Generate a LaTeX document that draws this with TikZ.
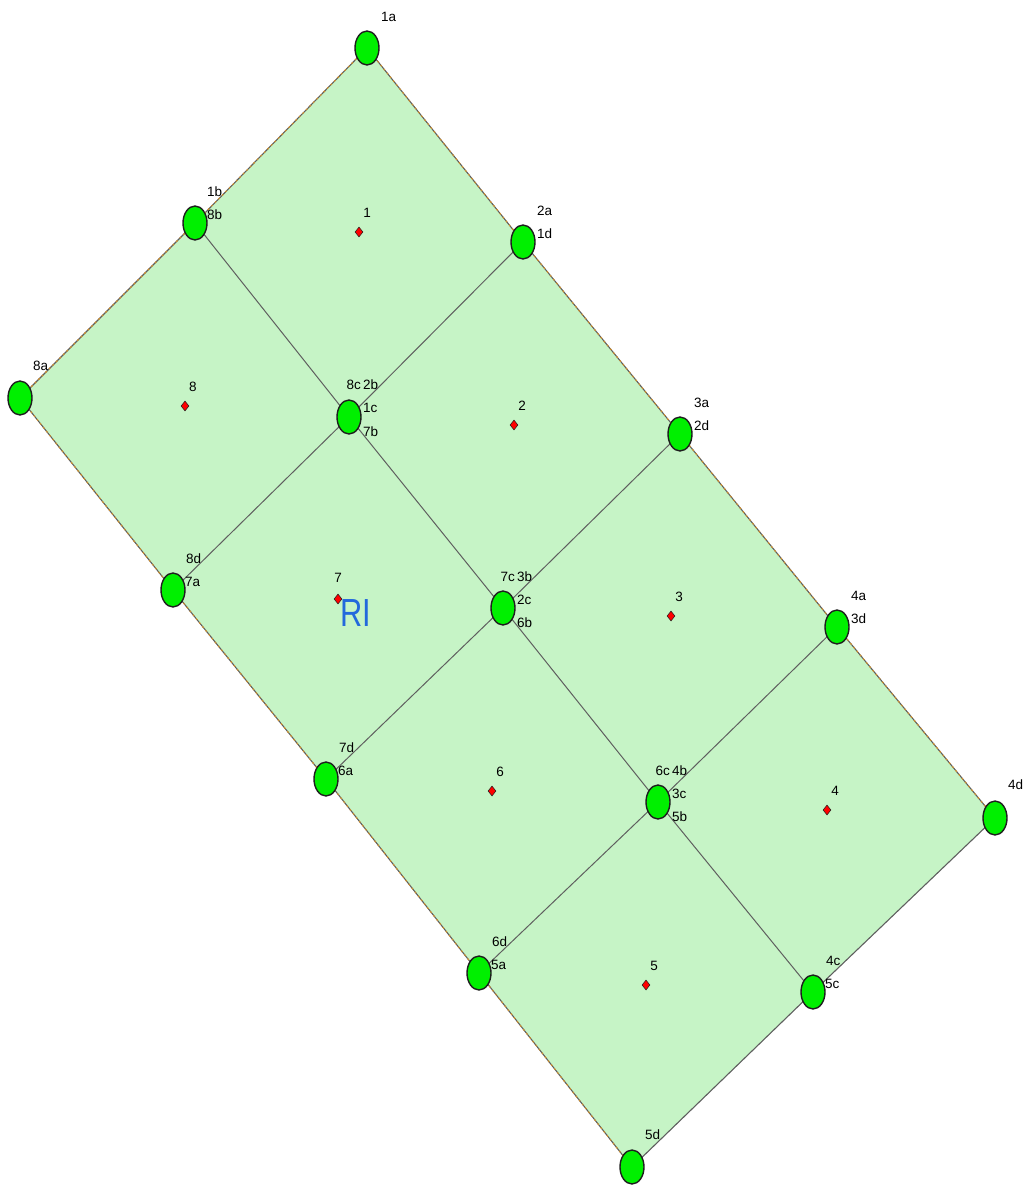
\documentclass[tikz,border=0pt]{standalone}
\usepackage{fontspec}
\setmainfont{Liberation Sans}
\usetikzlibrary{shapes.geometric,calc}
\definecolor{cellfill}{RGB}{198,244,198}
\definecolor{ptfill}{RGB}{0,240,0}
\definecolor{ptline}{RGB}{30,30,30}
\definecolor{gridline}{RGB}{95,95,95}
\definecolor{edgeorange}{RGB}{205,140,45}
\definecolor{riblue}{RGB}{35,105,220}
\tikzset{
  pt/.style={ellipse,draw=ptline,fill=ptfill,line width=1.4pt,minimum width=24pt,minimum height=34pt,inner sep=0pt},
  ctr/.style={diamond,draw=ptline,fill=red,line width=0.5pt,minimum width=8pt,minimum height=10pt,inner sep=0pt},
  lbl/.style={font=\fontsize{13.5}{14}\selectfont,inner sep=0pt,text=black},
  inner/.style={draw=gridline,line width=1pt},
  outer/.style={draw=gridline,line width=1.1pt},
  outerdots/.style={draw=edgeorange,line width=1.1pt,dash pattern=on 2pt off 3pt},
}
\begin{document}
\begin{tikzpicture}[x=1pt,y=-1pt]
\useasboundingbox (0,0) rectangle (1032,1191);
% grid points
\coordinate (p00) at (367,48);
\coordinate (p10) at (195,223);
\coordinate (p20) at (20,398);
\coordinate (p01) at (523,242);
\coordinate (p11) at (349,417);
\coordinate (p21) at (173,590);
\coordinate (p02) at (680,434);
\coordinate (p12) at (503,608);
\coordinate (p22) at (326,779);
\coordinate (p03) at (837,627);
\coordinate (p13) at (658,802);
\coordinate (p23) at (479,973);
\coordinate (p04) at (995,818);
\coordinate (p14) at (813,992);
\coordinate (p24) at (632,1167);
% fill
\fill[cellfill] (p00)--(p10)--(p20)--(p21)--(p22)--(p23)--(p24)--(p14)--(p04)--(p03)--(p02)--(p01)--cycle;
% inner edges
\draw[inner] (p10)--(p11)--(p12)--(p13)--(p14);
\draw[inner] (p01)--(p11)--(p21);
\draw[inner] (p02)--(p12)--(p22);
\draw[inner] (p03)--(p13)--(p23);
% outer edges
\draw[outer] (p00)--(p10)--(p20)--(p21)--(p22)--(p23)--(p24)--(p14)--(p04)--(p03)--(p02)--(p01)--cycle;
\draw[outerdots] (p00)--(p10)--(p20)--(p21)--(p22)--(p23)--(p24);
\draw[outerdots] (p04)--(p03)--(p02)--(p01)--(p00);
% points
\foreach \p in {p00,p10,p20,p01,p11,p21,p02,p12,p22,p03,p13,p23,p04,p14,p24}
  \node[pt] (n\p) at (\p) {};
% point labels
\node[lbl,anchor=west] (l1a) at ($(p00)+(14,-31)$) {1a};
\node[lbl,anchor=west] (l1b) at ($(p10)+(12,-31)$) {1b};
\node[lbl,anchor=west] (l8b) at ($(p10)+(12,-8)$) {8b};
\node[lbl,anchor=west] (l8a) at ($(p20)+(13,-32)$) {8a};
\node[lbl,anchor=west] (l2a) at ($(p01)+(14,-31)$) {2a};
\node[lbl,anchor=west] (l1d) at ($(p01)+(14,-8)$) {1d};
\node[lbl,anchor=east] (l8c) at ($(p11)+(12,-32)$) {8c};
\node[lbl,anchor=west] (l2b) at ($(p11)+(14,-32)$) {2b};
\node[lbl,anchor=west] (l1c) at ($(p11)+(14,-9)$) {1c};
\node[lbl,anchor=west] (l7b) at ($(p11)+(14,15)$) {7b};
\node[lbl,anchor=west] (l8d) at ($(p21)+(13,-31)$) {8d};
\node[lbl,anchor=west] (l7a) at ($(p21)+(12,-8)$) {7a};
\node[lbl,anchor=west] (l3a) at ($(p02)+(14,-31)$) {3a};
\node[lbl,anchor=west] (l2d) at ($(p02)+(14,-8)$) {2d};
\node[lbl,anchor=east] (l7c) at ($(p12)+(12,-31)$) {7c};
\node[lbl,anchor=west] (l3b) at ($(p12)+(14,-31)$) {3b};
\node[lbl,anchor=west] (l2c) at ($(p12)+(14,-8)$) {2c};
\node[lbl,anchor=west] (l6b) at ($(p12)+(14,15)$) {6b};
\node[lbl,anchor=west] (l7d) at ($(p22)+(13,-31)$) {7d};
\node[lbl,anchor=west] (l6a) at ($(p22)+(12,-8)$) {6a};
\node[lbl,anchor=west] (l4a) at ($(p03)+(14,-31)$) {4a};
\node[lbl,anchor=west] (l3d) at ($(p03)+(14,-8)$) {3d};
\node[lbl,anchor=east] (l6c) at ($(p13)+(12,-31)$) {6c};
\node[lbl,anchor=west] (l4b) at ($(p13)+(14,-31)$) {4b};
\node[lbl,anchor=west] (l3c) at ($(p13)+(14,-8)$) {3c};
\node[lbl,anchor=west] (l5b) at ($(p13)+(14,15)$) {5b};
\node[lbl,anchor=west] (l6d) at ($(p23)+(13,-31)$) {6d};
\node[lbl,anchor=west] (l5a) at ($(p23)+(12,-8)$) {5a};
\node[lbl,anchor=west] (l4d) at ($(p04)+(13,-33)$) {4d};
\node[lbl,anchor=west] (l4c) at ($(p14)+(13,-31)$) {4c};
\node[lbl,anchor=west] (l5c) at ($(p14)+(12,-8)$) {5c};
\node[lbl,anchor=west] (l5d) at ($(p24)+(13,-32)$) {5d};
% cell centres
\node[ctr] (d1) at (359,232) {};
\node[ctr] (d8) at (185,406) {};
\node[ctr] (d2) at (514,425) {};
\node[ctr] (d7) at (338,599) {};
\node[ctr] (d3) at (671,616) {};
\node[ctr] (d6) at (492,791) {};
\node[ctr] (d4) at (827,810) {};
\node[ctr] (d5) at (646,985) {};
\node[lbl] (t1) at ($(d1)+(8,-19)$) {1};
\node[lbl] (t8) at ($(d8)+(8,-19)$) {8};
\node[lbl] (t2) at ($(d2)+(8,-19)$) {2};
\node[lbl] (t7) at ($(d7)+(0,-21)$) {7};
\node[lbl] (t3) at ($(d3)+(8,-19)$) {3};
\node[lbl] (t6) at ($(d6)+(8,-19)$) {6};
\node[lbl] (t4) at ($(d4)+(8,-19)$) {4};
\node[lbl] (t5) at ($(d5)+(8,-19)$) {5};
% region label
\node[inner sep=0pt,text=riblue] (ri) at (356,613) {\scalebox{1.1}[1.4]{\fontsize{28}{28}\selectfont RI}};
\end{tikzpicture}
\end{document}
